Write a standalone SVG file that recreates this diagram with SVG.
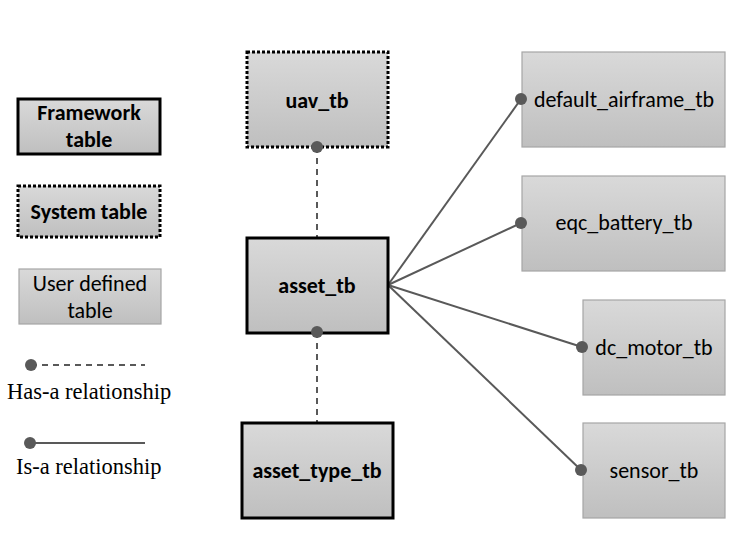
<svg xmlns="http://www.w3.org/2000/svg" width="745" height="551" viewBox="0 0 745 551">
<defs>
<linearGradient id="g" x1="0" y1="0" x2="0" y2="1">
<stop offset="0" stop-color="#d9d9d9"/>
<stop offset="1" stop-color="#bfbfbf"/>
</linearGradient>
</defs>
<style>
.fw{fill:url(#g);stroke:#000;stroke-width:3}
.sys{fill:url(#g);stroke:#000;stroke-width:3;stroke-dasharray:3 2}
.usr{fill:url(#g);stroke:#a6a6a6;stroke-width:1.2}
.b{font-family:Carlito,Calibri,"Open Sans","Liberation Sans",sans-serif;font-weight:bold;font-size:22px;fill:#000;text-anchor:middle}
.r{font-family:Carlito,Calibri,"Open Sans","Liberation Sans",sans-serif;font-size:22px;fill:#000;text-anchor:middle}
.t{font-family:"Liberation Serif","Times New Roman",serif;font-size:22.5px;fill:#000}
.ln{stroke:#595959;stroke-width:2;fill:none}
.dl{stroke:#595959;stroke-width:2;fill:none;stroke-dasharray:6 5}
.dot{fill:#595959}
</style>
<g id="legend">
<g id="legend-framework"><rect class="fw" x="18" y="99" width="142" height="55"/><text class="b" x="89" y="120">Framework</text><text class="b" x="89" y="147">table</text></g>
<g id="legend-system"><rect class="sys" x="18" y="186" width="142" height="51"/><text class="b" x="89" y="219">System table</text></g>
<g id="legend-user"><rect class="usr" x="19" y="269" width="142" height="55"/><text class="r" x="90" y="291">User defined</text><text class="r" x="90" y="318">table</text></g>
<g id="legend-hasa"><line class="dl" x1="31" y1="365" x2="145" y2="365"/><circle class="dot" cx="31" cy="365" r="6"/><text class="t" x="7" y="399">Has-a relationship</text></g>
<g id="legend-isa"><line class="ln" x1="30" y1="443" x2="145" y2="443"/><circle class="dot" cx="30" cy="443" r="6"/><text class="t" x="16" y="474">Is-a relationship</text></g>
</g>
<g id="connectors">
<line class="dl" x1="317" y1="147" x2="317" y2="237"/>
<line class="dl" x1="317" y1="332" x2="317" y2="423"/>
<line class="ln" x1="388" y1="285" x2="521" y2="99"/>
<line class="ln" x1="388" y1="285" x2="521" y2="223"/>
<line class="ln" x1="388" y1="285" x2="582" y2="347"/>
<line class="ln" x1="388" y1="285" x2="581" y2="470"/>
</g>
<g id="uav_tb"><rect class="sys" x="247" y="52" width="141" height="95"/><text class="b" x="317" y="108">uav_tb</text></g>
<g id="asset_tb"><rect class="fw" x="247" y="238" width="141" height="95"/><text class="b" x="317" y="293">asset_tb</text></g>
<g id="asset_type_tb"><rect class="fw" x="242" y="423" width="151" height="95"/><text class="b" x="317" y="478">asset_type_tb</text></g>
<g id="default_airframe_tb"><rect class="usr" x="522" y="52" width="203" height="95"/><text class="r" x="624" y="107">default_airframe_tb</text></g>
<g id="eqc_battery_tb"><rect class="usr" x="522" y="176" width="203" height="95"/><text class="r" x="624" y="230">eqc_battery_tb</text></g>
<g id="dc_motor_tb"><rect class="usr" x="583" y="300" width="142" height="95"/><text class="r" x="654" y="355">dc_motor_tb</text></g>
<g id="sensor_tb"><rect class="usr" x="583" y="423" width="142" height="95"/><text class="r" x="654" y="478">sensor_tb</text></g>
<g id="dots">
<circle class="dot" cx="317" cy="147" r="6"/>
<circle class="dot" cx="317" cy="332" r="6"/>
<circle class="dot" cx="521" cy="99" r="6"/>
<circle class="dot" cx="521" cy="223" r="6"/>
<circle class="dot" cx="582" cy="347" r="6"/>
<circle class="dot" cx="581" cy="470" r="6"/>
</g>
</svg>
